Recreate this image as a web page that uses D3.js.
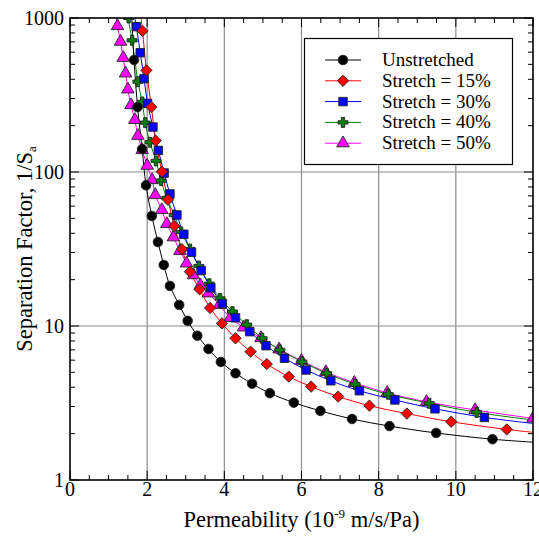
<!DOCTYPE html>
<html>
<head>
<meta charset="utf-8">
<script src="https://cdn.jsdelivr.net/npm/d3@7"></script>
<style>
  body { margin: 0; background: #fff; }
</style>
</head>
<body>
<div id="chart"></div>
<script>
// Data
const seriesNames = ["Unstretched", "Stretch = 15%", "Stretch = 30%", "Stretch = 40%", "Stretch = 50%"];

const xUnstretched = [1.66, 1.75, 1.87, 1.97, 2.12, 2.28, 2.43, 2.59, 2.83, 3.05, 3.30, 3.59, 3.91, 4.29, 4.72, 5.18, 5.80, 6.49, 7.31, 8.28, 9.49, 10.95];
const yUnstretched = [534, 264, 141, 82, 51.8, 35.1, 24.9, 18.2, 13.7, 10.8, 8.65, 7.09, 5.84, 4.93, 4.22, 3.66, 3.18, 2.81, 2.49, 2.24, 2.02, 1.84];

const xStretch15 = [1.88, 1.98, 2.11, 2.22, 2.38, 2.54, 2.70, 2.90, 3.11, 3.36, 3.63, 3.94, 4.29, 4.68, 5.10, 5.67, 6.25, 6.95, 7.76, 8.73, 9.88, 11.32];
const yStretch15 = [824, 457, 264, 160, 100.5, 66, 44.6, 31.5, 22.5, 17.3, 13.1, 10.4, 8.32, 6.81, 5.66, 4.69, 4.04, 3.48, 3.04, 2.70, 2.39, 2.13];

const xStretch30 = [1.72, 1.82, 1.92, 2.01, 2.15, 2.29, 2.44, 2.59, 2.77, 2.95, 3.15, 3.40, 3.65, 3.95, 4.29, 4.66, 5.08, 5.56, 6.12, 6.76, 7.50, 8.42, 9.46, 10.74];
const yStretch30 = [879, 595, 404, 279, 196, 138, 98.5, 72, 52.6, 39.4, 30.1, 22.9, 17.7, 14.0, 11.3, 9.19, 7.45, 6.17, 5.18, 4.41, 3.80, 3.31, 2.90, 2.55];

const xStretch40 = [1.52, 1.61, 1.76, 1.87, 1.95, 2.07, 2.23, 2.36, 2.51, 2.70, 2.88, 3.11, 3.34, 3.61, 3.89, 4.21, 4.58, 4.98, 5.44, 6.01, 6.65, 7.39, 8.25, 9.31, 10.54];
const yStretch40 = [1000, 716, 386, 285, 209, 156, 118, 88, 67.8, 52.6, 40.8, 31.6, 24.5, 18.8, 15.1, 12.4, 10.2, 8.32, 7.0, 5.86, 4.93, 4.18, 3.60, 3.15, 2.75];

const xStretch50 = [1.23, 1.31, 1.38, 1.44, 1.50, 1.58, 1.68, 1.76, 1.87, 2.00, 2.13, 2.21, 2.38, 2.51, 2.68, 2.85, 3.02, 3.20, 3.38, 3.59, 3.87, 4.15, 4.50, 4.95, 5.42, 6.00, 6.63, 7.37, 8.22, 9.24, 10.50, 12.0];
const yStretch50 = [887, 702, 552, 437, 344, 272, 218, 172, 139, 110, 88.7, 70.9, 56.7, 46, 37.7, 30.8, 25.5, 21.4, 18.4, 16.3, 13.7, 11.3, 9.8, 8.35, 7.05, 5.95, 5.02, 4.28, 3.68, 3.22, 2.85, 2.51];

// where each fitted curve leaves the top and meets the right edge
const curveTopX = [1.60, 1.84, 1.68, 1.50, 1.20];
const curveRightY = [1.76, 2.04, 2.33, 2.45, 2.51];

const xTicks = [0, 2, 4, 6, 8, 10, 12];
const yTicks = [1, 10, 100, 1000];

// Display options
const width = 539, height = 538;
const margin = { top: 18, right: 6, bottom: 58, left: 70 };
const fontFamily = "'Liberation Serif', 'DejaVu Serif', serif";
const colours = ["#000000", "#ff0000", "#0000ff", "#008000", "#ff00ff"];
const diamond = { draw: (ctx, size) => {
  const r = Math.sqrt(size / 2);
  ctx.moveTo(0, -r); ctx.lineTo(r, 0); ctx.lineTo(0, r); ctx.lineTo(-r, 0); ctx.closePath();
} };
const symbols = [d3.symbolCircle, diamond, d3.symbolSquare, d3.symbolCross, d3.symbolTriangle];
const symbolSizes = [72, 64, 72, 55, 68];

const xs = [xUnstretched, xStretch15, xStretch30, xStretch40, xStretch50];
const ys = [yUnstretched, yStretch15, yStretch30, yStretch40, yStretch50];

const series = seriesNames.map((name, i) => ({
  name,
  colour: colours[i],
  symbol: symbols[i],
  size: symbolSizes[i],
  points: xs[i].map((x, j) => ({ x, y: ys[i][j] })),
  curve: [{ x: curveTopX[i], y: 1000 }]
    .concat(xs[i].map((x, j) => ({ x, y: ys[i][j] })).filter((d) => d.y < 1000))
    .concat(xs[i][xs[i].length - 1] < 12 ? [{ x: 12, y: curveRightY[i] }] : []),
}));

const svg = d3.select("#chart").append("svg")
  .attr("width", width).attr("height", height)
  .attr("font-family", fontFamily);

const x = d3.scaleLinear().domain([0, 12]).range([margin.left, width - margin.right]);
const y = d3.scaleLog().domain([1, 1000]).range([height - margin.bottom, margin.top]);

const [x0, x1] = x.range();
const [y0, y1] = y.range();

svg.append("clipPath").attr("id", "plot-clip")
  .append("rect").attr("x", x0).attr("y", y1).attr("width", x1 - x0).attr("height", y0 - y1);

// Grid lines
const grid = svg.append("g").attr("stroke", "#8c8c8c").attr("stroke-width", 1.2);
grid.selectAll("line.vx").data(xTicks.slice(1, -1)).join("line")
  .attr("x1", (d) => x(d)).attr("x2", (d) => x(d)).attr("y1", y1).attr("y2", y0);
grid.selectAll("line.hy").data(yTicks.slice(1, -1)).join("line")
  .attr("y1", (d) => y(d)).attr("y2", (d) => y(d)).attr("x1", x0).attr("x2", x1);

// Ticks (inward on all four sides)
const xMinor = d3.range(0.5, 12, 0.5).filter((d) => d % 2 !== 0);
const yMinor = [];
[1, 10, 100].forEach((dec) => d3.range(2, 10).forEach((k) => yMinor.push(dec * k)));

const ticks = svg.append("g").attr("stroke", "#000").attr("stroke-width", 1);
const addX = (vals, len) => {
  ticks.selectAll(null).data(vals).join("line")
    .attr("x1", (d) => x(d)).attr("x2", (d) => x(d)).attr("y1", y0).attr("y2", y0 - len);
  ticks.selectAll(null).data(vals).join("line")
    .attr("x1", (d) => x(d)).attr("x2", (d) => x(d)).attr("y1", y1).attr("y2", y1 + len);
};
const addY = (vals, len) => {
  ticks.selectAll(null).data(vals).join("line")
    .attr("y1", (d) => y(d)).attr("y2", (d) => y(d)).attr("x1", x0).attr("x2", x0 + len);
  ticks.selectAll(null).data(vals).join("line")
    .attr("y1", (d) => y(d)).attr("y2", (d) => y(d)).attr("x1", x1).attr("x2", x1 - len);
};
addX(xMinor, 5);
addX(xTicks, 9);
addY(yMinor, 5);
addY(yTicks, 9);

// Tick labels
svg.append("g").selectAll("text").data(xTicks).join("text")
  .attr("x", (d) => x(d)).attr("y", y0 + 16)
  .attr("text-anchor", "middle").attr("font-size", 20)
  .text((d) => d);
svg.append("g").selectAll("text").data(yTicks).join("text")
  .attr("x", x0 - 6).attr("y", (d) => y(d) + 6.5)
  .attr("text-anchor", "end").attr("font-size", 20)
  .text((d) => d);

// Curves and markers
const line = d3.line().x((d) => x(d.x)).y((d) => y(d.y)).curve(d3.curveCatmullRom.alpha(0.5));
const plot = svg.append("g").attr("clip-path", "url(#plot-clip)");
const drawOrder = [4, 3, 2, 1, 0];

drawOrder.forEach((i) => {
  const s = series[i];
  plot.append("path").datum(s.curve)
    .attr("d", line).attr("fill", "none")
    .attr("stroke", s.colour).attr("stroke-width", 1);
});
drawOrder.forEach((i) => {
  const s = series[i];
  plot.append("g").selectAll("path").data(s.points).join("path")
    .attr("transform", (d) => `translate(${x(d.x)},${y(d.y)})`)
    .attr("d", d3.symbol().type(s.symbol).size(s.size))
    .attr("fill", s.colour)
    .attr("stroke", "#222").attr("stroke-width", 0.9);
});

// Frame
svg.append("rect").attr("x", x0).attr("y", y1).attr("width", x1 - x0).attr("height", y0 - y1)
  .attr("fill", "none").attr("stroke", "#000").attr("stroke-width", 1.6);

// Axis titles
const xTitle = svg.append("text")
  .attr("x", (x0 + x1) / 2).attr("y", height - 11)
  .attr("text-anchor", "middle").attr("font-size", 22.5);
xTitle.append("tspan").text("Permeability (10");
xTitle.append("tspan").attr("font-size", 13).attr("dy", -9).text("-9");
xTitle.append("tspan").attr("dy", 9).text(" m/s/Pa)");

const yTitle = svg.append("text")
  .attr("transform", `translate(32,${(y0 + y1) / 2}) rotate(-90)`)
  .attr("text-anchor", "middle").attr("font-size", 22.5);
yTitle.append("tspan").text("Separation Factor, 1/S");
yTitle.append("tspan").attr("font-size", 13).attr("dy", 4).text("a");

// Legend
const legend = svg.append("g");
legend.append("rect")
  .attr("x", 304.5).attr("y", 38.5).attr("width", 208).attr("height", 126)
  .attr("fill", "#fff").attr("stroke", "#000").attr("stroke-width", 1.2);
series.forEach((s, i) => {
  const ly = 60 + i * 20.8;
  legend.append("line").attr("x1", 325).attr("x2", 361).attr("y1", ly).attr("y2", ly)
    .attr("stroke", s.colour).attr("stroke-width", 1);
  legend.append("path")
    .attr("transform", `translate(343,${ly})`)
    .attr("d", d3.symbol().type(s.symbol).size(s.size))
    .attr("fill", s.colour).attr("stroke", "#222").attr("stroke-width", 0.9);
  legend.append("text").attr("x", 382).attr("y", ly + 6)
    .attr("font-size", 19).text(s.name);
});
</script>
</body>
</html>
